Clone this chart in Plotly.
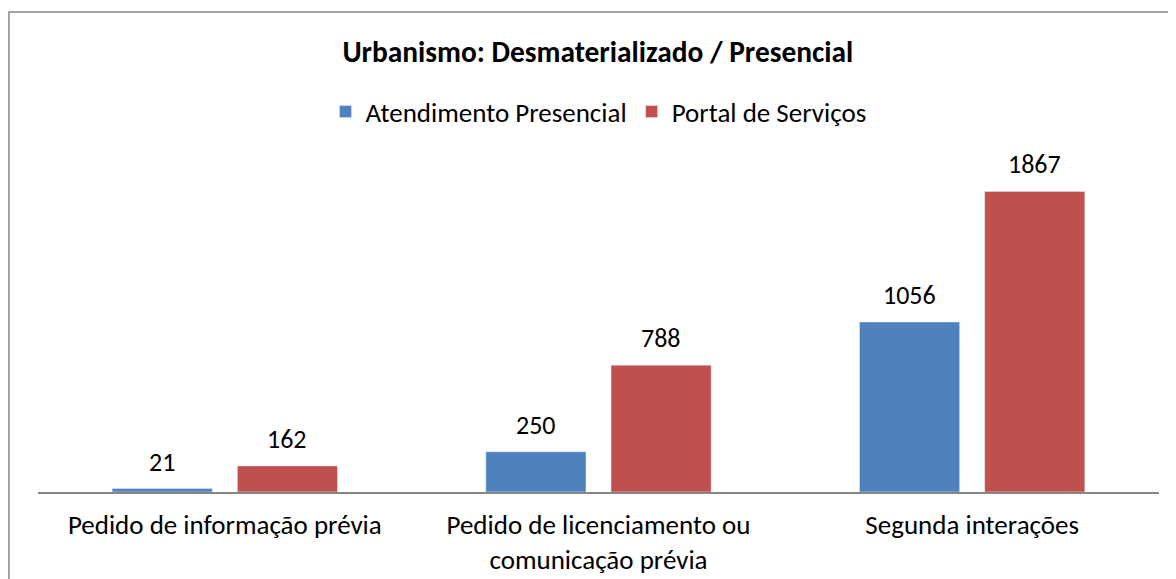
import plotly.graph_objects as go

categories = ["Pedido de informação prévia",
              "Pedido de licenciamento ou<br>comunicação prévia",
              "Segunda interações"]
presencial = [21, 250, 1056]
portal = [162, 788, 1867]

FONT = "Carlito, Calibri, Lato, sans-serif"

fig = go.Figure()

fig.add_trace(go.Bar(
    x=categories, y=presencial, name="Atendimento Presencial",
    marker_color="#4F81BD"
))
fig.add_trace(go.Bar(
    x=categories, y=portal, name="Portal de Serviços",
    marker_color="#C0504D"
))

# value labels, lifted a bit more than plotly's default "outside" text
for cat, v1, v2 in zip(categories, presencial, portal):
    for val, dx in ((v1, -62.5), (v2, 62.5)):
        fig.add_annotation(x=cat, y=val, text=str(val), showarrow=False,
                           xshift=dx, yshift=9, yanchor="bottom",
                           font=dict(size=26, color="#000000"))

fig.update_layout(
    width=1168, height=571,
    margin=dict(l=30, r=17, t=162, b=87, autoexpand=False),
    paper_bgcolor="white", plot_bgcolor="white",
    font=dict(family=FONT, size=27, color="#000000"),
    title=dict(text="<b>Urbanismo: Desmaterializado / Presencial</b>",
               x=0.505, xanchor="center", y=1 - 44 / 571, yanchor="middle",
               font=dict(size=29.4)),
    barmode="group", bargap=0.33, bargroupgap=0.2,
    showlegend=True,
    legend=dict(orientation="h", x=0.5, xanchor="center", y=1.18, yanchor="middle",
                font=dict(size=27), itemwidth=30, tracegroupgap=0),
)

fig.update_xaxes(showline=True, linecolor="#868686", linewidth=1.5, ticks="",
                 tickfont=dict(size=27), showgrid=False, ticklabelstandoff=8,
                 automargin=False)
fig.update_yaxes(visible=False, range=[0, 2000], automargin=False)

fig.add_shape(type="rect", xref="paper", yref="paper",
              x0=-0.0259, x1=1.05, y0=-0.4, y1=1.4907,
              line=dict(color="#868686", width=1.5), layer="below")

fig.write_html("out.html")
